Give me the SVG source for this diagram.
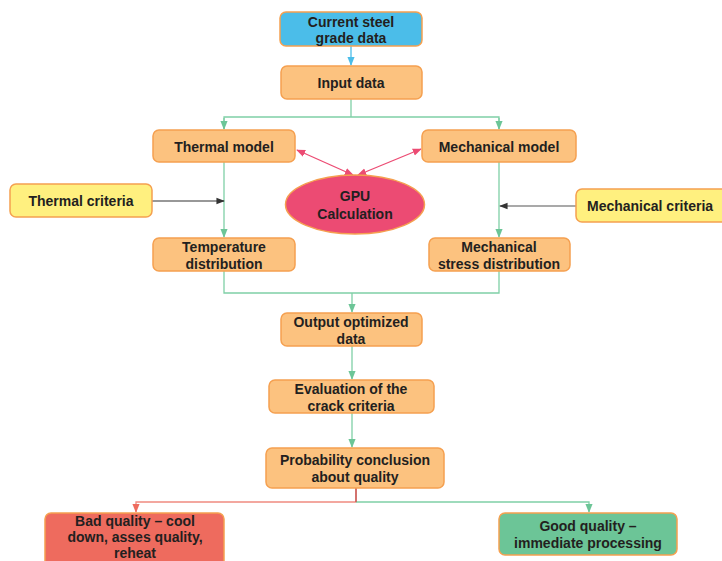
<svg xmlns="http://www.w3.org/2000/svg" width="722" height="561" viewBox="0 0 722 561">
<defs>
<style>
text{font-family:"Liberation Sans",Arial,sans-serif;font-weight:bold;font-size:14px;fill:#231f20;text-anchor:middle}
.o{fill:#fcc27f;stroke:#f5a050;stroke-width:1.5}
.y{fill:#fff07f;stroke:#f5a050;stroke-width:1.5}
.g{stroke:#7fd0a6;stroke-width:1.3;fill:none}
</style>
<marker id="ag" viewBox="0 0 10 10" refX="9" refY="5" markerWidth="7" markerHeight="7" orient="auto"><path d="M0,1 L10,5 L0,9 z" fill="#6cc597"/></marker>
<marker id="ab" viewBox="0 0 10 10" refX="9" refY="5" markerWidth="7" markerHeight="7" orient="auto"><path d="M0,1 L10,5 L0,9 z" fill="#4bbde9"/></marker>
<marker id="ak" viewBox="0 0 10 10" refX="9" refY="5" markerWidth="7" markerHeight="7" orient="auto"><path d="M0,1 L10,5 L0,9 z" fill="#333"/></marker>
<marker id="ap" viewBox="0 0 10 10" refX="9" refY="5" markerWidth="7" markerHeight="7" orient="auto-start-reverse"><path d="M0,1 L10,5 L0,9 z" fill="#ec4b73"/></marker>
<marker id="ar" viewBox="0 0 10 10" refX="9" refY="5" markerWidth="7" markerHeight="7" orient="auto"><path d="M0,1 L10,5 L0,9 z" fill="#ee6b5e"/></marker>
</defs>
<rect width="722" height="561" fill="#fff"/>
<g id="connectors">
<path d="M351,46 V65" stroke="#4bbde9" stroke-width="1.3" fill="none" marker-end="url(#ab)"/>
<path d="M351,99 V117" class="g"/>
<path d="M224,129 V117 H499 V129" class="g"/>
<path d="M224,118 V129" class="g" marker-end="url(#ag)"/>
<path d="M499,118 V129" class="g" marker-end="url(#ag)"/>
<path d="M224,162 V237" class="g" marker-end="url(#ag)"/>
<path d="M499,162 V237" class="g" marker-end="url(#ag)"/>
<path d="M224,271 V293 H499 V271" class="g"/>
<path d="M352,293 V312" class="g" marker-end="url(#ag)"/>
<path d="M352,346 V379" class="g" marker-end="url(#ag)"/>
<path d="M352,413 V447" class="g" marker-end="url(#ag)"/>
<path d="M152,201 H224" stroke="#333" stroke-width="1.2" fill="none" marker-end="url(#ak)"/>
<path d="M576,206 H500" stroke="#555" stroke-width="1.2" fill="none" marker-end="url(#ak)"/>
<path d="M297,150 L353,175" stroke="#ec4b73" stroke-width="1.3" fill="none" marker-start="url(#ap)" marker-end="url(#ap)"/>
<path d="M421,149 L358,175" stroke="#ec4b73" stroke-width="1.3" fill="none" marker-start="url(#ap)" marker-end="url(#ap)"/>
<path d="M356,488 V502 H136 V512" stroke="#f08a80" stroke-width="1.3" fill="none" marker-end="url(#ar)"/>
<path d="M356,502 H589 V512" class="g" marker-end="url(#ag)"/>
<path d="M356,488 V502" stroke="#c0504d" stroke-width="1.3" fill="none"/>
</g>
<g id="current-steel"><rect x="280" y="12" width="142" height="34" rx="6" fill="#4bbde9" stroke="#f5a050" stroke-width="1.5"/><text x="351" y="27">Current steel</text><text x="351" y="43">grade data</text></g>
<g id="input-data"><rect class="o" x="281" y="66" width="141" height="33" rx="6"/><text x="351" y="88">Input data</text></g>
<g id="thermal-model"><rect class="o" x="153" y="130" width="142" height="32" rx="6"/><text x="224" y="152">Thermal model</text></g>
<g id="mechanical-model"><rect class="o" x="422" y="130" width="154" height="32" rx="6"/><text x="499" y="152">Mechanical model</text></g>
<g id="gpu"><ellipse cx="355" cy="204.5" rx="69.5" ry="29.5" fill="#ec4b73" stroke="#f5a050" stroke-width="1.5"/><text x="355" y="201">GPU</text><text x="355" y="219">Calculation</text></g>
<g id="thermal-criteria"><rect class="y" x="10" y="184" width="142" height="33" rx="6"/><text x="81" y="206">Thermal criteria</text></g>
<g id="mechanical-criteria"><rect class="y" x="576" y="189" width="160" height="33" rx="6"/><text x="587" y="211" style="text-anchor:start">Mechanical criteria</text></g>
<g id="temperature"><rect class="o" x="153" y="238" width="142" height="33" rx="6"/><text x="224" y="252">Temperature</text><text x="224" y="269">distribution</text></g>
<g id="stress"><rect class="o" x="429" y="238" width="141" height="33" rx="6"/><text x="499" y="252">Mechanical</text><text x="499" y="269">stress distribution</text></g>
<g id="output"><rect class="o" x="281" y="313" width="141" height="33" rx="6"/><text x="351" y="327">Output optimized</text><text x="351" y="344">data</text></g>
<g id="evaluation"><rect class="o" x="269" y="380" width="165" height="33" rx="6"/><text x="351" y="394">Evaluation of the</text><text x="351" y="411">crack criteria</text></g>
<g id="probability"><rect class="o" x="266" y="448" width="178" height="40" rx="6"/><text x="355" y="465">Probability conclusion</text><text x="355" y="482">about quality</text></g>
<g id="bad"><rect x="45" y="513" width="179" height="55" rx="6" fill="#ee6b5e" stroke="#f5a050" stroke-width="1.5"/><text x="135" y="526">Bad quality – cool</text><text x="135" y="542">down, asses quality,</text><text x="135" y="558">reheat</text></g>
<g id="good"><rect x="499" y="513" width="178" height="42" rx="6" fill="#6cc597" stroke="#f5a050" stroke-width="1.5"/><text x="588" y="531">Good quality –</text><text x="588" y="548">immediate processing</text></g>
</svg>
